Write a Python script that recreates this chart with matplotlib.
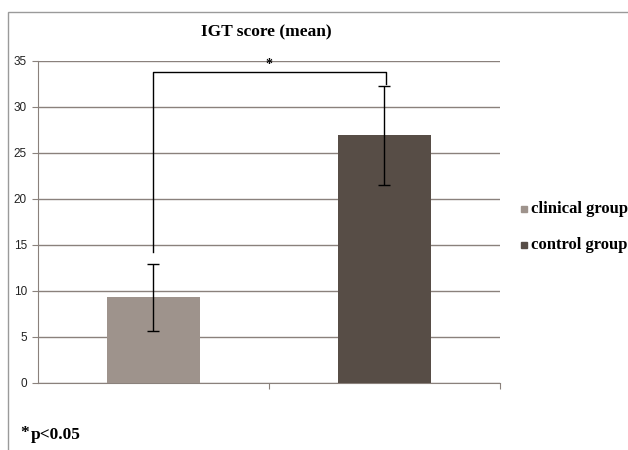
import matplotlib.pyplot as plt
from matplotlib.patches import Rectangle

groups = ["clinical group", "control group"]
means = [9.3, 26.9]
errors = [3.6, 5.35]
colors = ["#9e938c", "#574d46"]
y_ticks = [0, 5, 10, 15, 20, 25, 30, 35]

# significance bracket between the two groups
bracket_left = 14.2
bracket_top = 33.8
bracket_right = 32.5

fig = plt.figure(figsize=(6.28, 4.5), dpi=100)
ax = fig.add_axes([0.0605, 0.1489, 0.7355, 0.7156])

# chart-area border on left and top
fig.patches.append(Rectangle((8 / 628, -0.1), 1.2, 1 - 12 / 450 + 0.1,
                             transform=fig.transFigure, fill=False,
                             edgecolor="#9a9a9a", linewidth=1.0))

x = list(range(len(groups)))
ax.bar(x, means, width=0.4, color=colors, zorder=3)
ax.errorbar(x, means, yerr=errors, fmt="none", ecolor="black",
            elinewidth=1.0, capsize=4, capthick=1.0, zorder=4)

ax.plot([0, 0, 1.005, 1.005], [bracket_left, bracket_top, bracket_top, bracket_right],
        color="black", linewidth=1.0, zorder=4)
ax.text(0.5, bracket_top + 0.1, "*", ha="center", va="bottom",
        fontsize=10, fontweight="bold", family="Liberation Serif")

ax.set_xlim(-0.5, 1.5)
ax.set_ylim(0, 35)
ax.set_yticks(y_ticks)
ax.set_yticklabels([str(v) for v in y_ticks], fontsize=8.5, color="#222222",
                   family="Liberation Sans")
ax.set_xticks([0.5, 1.5])
ax.set_xticklabels([])
ax.tick_params(axis="y", length=4, color="#8a817c", pad=4)
ax.tick_params(axis="x", length=4, color="#8a817c", direction="out")
ax.yaxis.grid(True, color="#8a817c", linewidth=1.0, zorder=0)
ax.set_axisbelow(True)
for side in ["top", "right"]:
    ax.spines[side].set_visible(False)
ax.spines["left"].set_color("#8a817c")
ax.spines["bottom"].set_color("#8a817c")

fig.text(266 / 628, 1 - 32 / 450, "IGT score (mean)", ha="center", va="center",
         fontsize=12.5, fontweight="bold", family="Liberation Serif")

# legend entries
for i, (name, c) in enumerate(zip(groups, colors)):
    yy = 1 - (209 + 36 * i) / 450
    fig.patches.append(Rectangle((521 / 628, yy - 3 / 450), 6 / 628, 6 / 450,
                                 transform=fig.transFigure, color=c))
    fig.text(531 / 628, yy, name, ha="left", va="center", fontsize=12,
             fontweight="bold", family="Liberation Serif")

fig.text(20 / 628, 1 - 433 / 450, "*", ha="left", va="center",
         fontsize=12.5, fontweight="bold", family="Liberation Serif")
fig.text(31 / 628, 1 - 435 / 450, "p<0.05", ha="left", va="center",
         fontsize=12.5, fontweight="bold", family="Liberation Serif")

fig.savefig("out.png", dpi=100)
